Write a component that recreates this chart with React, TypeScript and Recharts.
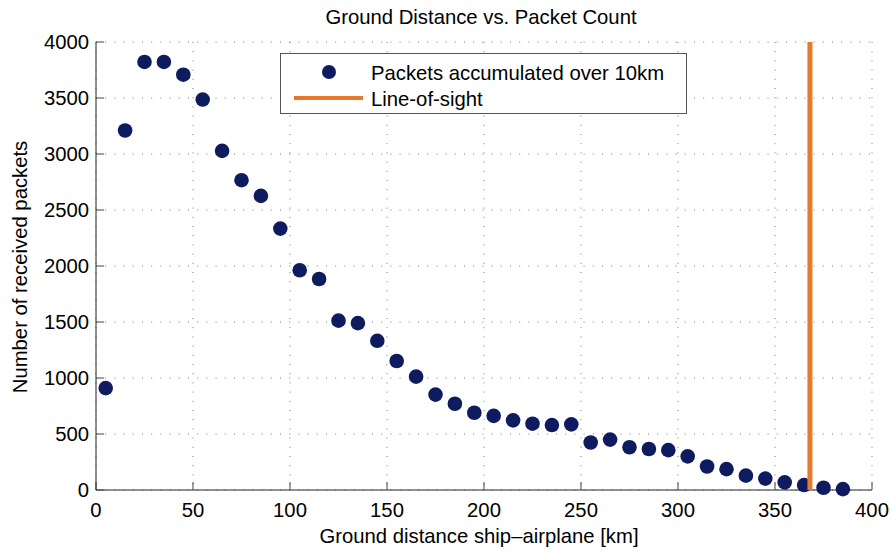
import React from "react";
import {
  ScatterChart,
  Scatter,
  XAxis,
  YAxis,
  CartesianGrid,
  Legend,
} from "recharts";

// ground distance bins (km, bin centres) and packets received per bin
const distanceKm = [
  5, 15, 25, 35, 45, 55, 65, 75, 85, 95, 105, 115, 125, 135, 145, 155, 165,
  175, 185, 195, 205, 215, 225, 235, 245, 255, 265, 275, 285, 295, 305, 315,
  325, 335, 345, 355, 365, 375, 385,
];
const packetCount = [
  910, 3210, 3822, 3822, 3708, 3486, 3028, 2766, 2626, 2334, 1962, 1884, 1512,
  1490, 1332, 1152, 1012, 852, 770, 690, 662, 622, 592, 580, 586, 424, 450,
  382, 366, 356, 300, 210, 186, 128, 102, 68, 44, 20, 8,
];
// line-of-sight distance (km)
const lineOfSightKm = 368;

const xTicks = [0, 50, 100, 150, 200, 250, 300, 350, 400];
const yTicks = [0, 500, 1000, 1500, 2000, 2500, 3000, 3500, 4000];

const packets = distanceKm.map((x, i) => ({ x, y: packetCount[i] }));
const lineOfSight = [
  { x: lineOfSightKm, y: yTicks[0] },
  { x: lineOfSightKm, y: yTicks[yTicks.length - 1] },
];

const NAVY = "#0f1b5f";
const ORANGE = "#e8782a";
const FONT = "'Liberation Sans', Arial, Helvetica, sans-serif";
const FS = 20.3;

const Dot = (props: any) => (
  <circle cx={props.cx} cy={props.cy} r={7.3} fill={NAVY} />
);

const NoDot = () => <g />;

const LegendBox = (props: any) => {
  // markers first, then the line, as in the original figure
  const items = [...(props.payload || [])].sort(
    (a: any, b: any) => (a.type === "line" ? 1 : 0) - (b.type === "line" ? 1 : 0)
  );
  return (
    <div
      style={{
        width: 405,
        height: 59,
        border: "1px solid #555",
        background: "#fff",
      }}
    >
      <svg width={405} height={59}>
        {items.map((item: any, i: number) => {
          const cy = 18 + i * 26;
          return (
            <g key={i}>
              {item.type === "line" ? (
                <line
                  x1={13}
                  x2={82}
                  y1={cy}
                  y2={cy}
                  stroke={ORANGE}
                  strokeWidth={4}
                />
              ) : (
                <circle cx={48} cy={cy} r={7} fill={NAVY} />
              )}
              <text
                x={90}
                y={cy + 7.5}
                fontSize={FS}
                fill="#000"
                fontFamily={FONT}
              >
                {item.value}
              </text>
            </g>
          );
        })}
      </svg>
    </div>
  );
};

const XLabel = (props: any) => {
  const vb = props.viewBox;
  return (
    <text
      x={vb.x + vb.width / 2 - 5}
      y={vb.y + 53}
      textAnchor="middle"
      fontSize={FS}
      fill="#000"
      fontFamily={FONT}
    >
      Ground distance ship{"\u2013"}airplane [km]
    </text>
  );
};

const YLabel = (props: any) => {
  const vb = props.viewBox;
  const x = vb.x + 27;
  const y = vb.y + vb.height / 2 + 1;
  return (
    <text
      x={x}
      y={y}
      transform={`rotate(-90 ${x} ${y})`}
      textAnchor="middle"
      fontSize={FS}
      fill="#000"
      fontFamily={FONT}
    >
      Number of received packets
    </text>
  );
};

export default function App() {
  return (
    <div
      style={{
        position: "absolute",
        left: 0,
        top: 0,
        width: 892,
        height: 552,
        background: "#fff",
        fontFamily: FONT,
      }}
    >
      <div
        style={{
          position: "absolute",
          left: 96,
          width: 770,
          top: 6,
          textAlign: "center",
          fontSize: FS,
          lineHeight: "normal",
          color: "#000",
        }}
      >
        Ground Distance vs. Packet Count
      </div>
      <ScatterChart
        width={892}
        height={552}
        margin={{ top: 42, right: 20, bottom: 0, left: 0 }}
      >
        <CartesianGrid
          stroke="#7a7a7a"
          strokeDasharray="1 8.2"
          fill="none"
        />
        <XAxis
          type="number"
          dataKey="x"
          domain={[0, 400]}
          ticks={xTicks}
          height={62}
          stroke="#222"
          tickSize={-8}
          tickMargin={21}
          tick={{ fontSize: FS, fill: "#000", fontFamily: FONT }}
          tickLine={{ stroke: "#444" }}
          label={<XLabel />}
        />
        <YAxis
          type="number"
          dataKey="y"
          domain={[0, 4000]}
          ticks={yTicks}
          width={96}
          stroke="#222"
          tickSize={-8}
          tickMargin={15}
          tick={{ fontSize: FS, fill: "#000", fontFamily: FONT }}
          tickLine={{ stroke: "#444" }}
          label={<YLabel />}
        />
        <Legend
          layout="vertical"
          align="center"
          verticalAlign="middle"
          content={<LegendBox />}
          wrapperStyle={{ left: 280, top: 53, width: 407, height: 61 }}
        />
        <Scatter
          name="Packets accumulated over 10km"
          data={packets}
          shape={<Dot />}
          legendType="circle"
          isAnimationActive={false}
        />
        <Scatter
          name="Line-of-sight"
          data={lineOfSight}
          line={{ stroke: ORANGE, strokeWidth: 5 }}
          shape={<NoDot />}
          legendType="line"
          isAnimationActive={false}
        />
      </ScatterChart>
    </div>
  );
}
